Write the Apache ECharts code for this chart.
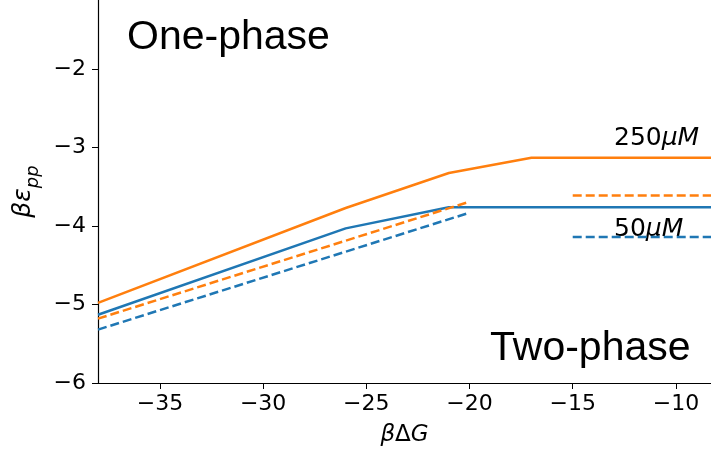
<!DOCTYPE html>
<html>
<head>
<meta charset="utf-8">
<script src="https://cdn.jsdelivr.net/npm/echarts@6/dist/echarts.min.js"></script>
<style>
  html, body { margin: 0; padding: 0; background: #fff; }
  #chart { width: 711px; height: 456px; }
</style>
</head>
<body>
<div id="chart"></div>
<script>
const BLUE = "#1f77b4";
const ORANGE = "#ff7f0e";

// x values are beta*dG, y values are beta*eps_pp
const high_solid_x = [-38, -26, -21, -17, -8.3];
const high_solid_y = [-4.98, -3.77, -3.325, -3.13, -3.13];
const low_solid_x = [-38, -26, -21, -8.3];
const low_solid_y = [-5.13, -4.03, -3.76, -3.76];
const high_dash_x = [-38, -20];
const high_dash_y = [-5.18, -3.69];
const low_dash_x = [-38, -20];
const low_dash_y = [-5.32, -3.83];
const high_ref_x = [-15, -8.3];
const high_ref_y = [-3.61, -3.61];
const low_ref_x = [-15, -8.3];
const low_ref_y = [-4.14, -4.14];

const xTicks = [-35, -30, -25, -20, -15, -10];
const yTicks = [-6, -5, -4, -3, -2];

const pairs = (xs, ys) => xs.map((x, i) => [x, ys[i]]);
const minus = (v) => String(v).replace("-", "\u2212");

const FONT = "DejaVu Sans";

const lineSeries = (xs, ys, color, dashed) => ({
  type: "line",
  data: pairs(xs, ys),
  showSymbol: false,
  symbol: "none",
  silent: true,
  lineStyle: {
    color: color,
    width: 2.5,
    type: dashed ? [9, 4] : "solid",
  },
});

const chart = echarts.init(document.getElementById("chart"), null, { renderer: "canvas" });

chart.setOption({
  animation: false,
  backgroundColor: "#fff",
  grid: { left: 98, right: 0, top: 0, bottom: 73, containLabel: false },
  xAxis: {
    type: "value",
    min: -38,
    max: -8.3,
    axisLine: { show: true, onZero: false, lineStyle: { color: "#000", width: 1.2 } },
    axisTick: { show: true, customValues: xTicks, length: 6, inside: false, lineStyle: { color: "#000", width: 1 } },
    axisLabel: {
      customValues: xTicks,
      formatter: minus,
      color: "#000",
      fontSize: 22,
      fontFamily: FONT,
      margin: 10,
    },
    splitLine: { show: false },
    name: "{i|β}{u|Δ}{i|G}",
    nameLocation: "middle",
    nameGap: 41,
    nameTextStyle: {
      rich: {
        i: { fontSize: 23, fontStyle: "italic", fontFamily: FONT, color: "#000" },
        u: { fontSize: 23, fontFamily: FONT, color: "#000" },
      },
    },
  },
  yAxis: {
    type: "value",
    min: -6,
    max: -1.12,
    axisLine: { show: true, onZero: false, lineStyle: { color: "#000", width: 1.2 } },
    axisTick: { show: true, customValues: yTicks, length: 6, inside: false, lineStyle: { color: "#000", width: 1 } },
    axisLabel: {
      customValues: yTicks,
      formatter: minus,
      color: "#000",
      fontSize: 22,
      fontFamily: FONT,
      margin: 12,
    },
    splitLine: { show: false },
    name: "{a|βε}{s|pp}",
    nameLocation: "middle",
    nameRotate: 90,
    nameGap: 55,
    nameTextStyle: {
      rich: {
        a: { fontSize: 25, fontStyle: "italic", fontFamily: FONT, color: "#000", verticalAlign: "bottom", padding: [0, 0, 7, 0] },
        s: { fontSize: 18, fontStyle: "italic", fontFamily: FONT, color: "#000", verticalAlign: "bottom" },
      },
    },
  },
  series: [
    lineSeries(low_solid_x, low_solid_y, BLUE, false),
    lineSeries(high_solid_x, high_solid_y, ORANGE, false),
    lineSeries(low_dash_x, low_dash_y, BLUE, true),
    lineSeries(high_dash_x, high_dash_y, ORANGE, true),
    lineSeries(high_ref_x, high_ref_y, ORANGE, true),
    lineSeries(low_ref_x, low_ref_y, BLUE, true),
  ],
  graphic: [
    {
      type: "text", left: 127, top: 17,
      style: { text: "One-phase", font: '41px "Liberation Sans"', fill: "#000" },
    },
    {
      type: "text", left: 490, top: 328,
      style: { text: "Two-phase", font: '41px "Liberation Sans"', fill: "#000" },
    },
    {
      type: "text", left: 614, top: 126,
      style: {
        text: "{n|250}{i|μM}",
        rich: {
          n: { font: '25px "DejaVu Sans"', fill: "#000" },
          i: { font: 'italic 25px "DejaVu Sans"', fill: "#000" },
        },
      },
    },
    {
      type: "text", left: 614, top: 217,
      style: {
        text: "{n|50}{i|μM}",
        rich: {
          n: { font: '25px "DejaVu Sans"', fill: "#000" },
          i: { font: 'italic 25px "DejaVu Sans"', fill: "#000" },
        },
      },
    },
  ],
});
</script>
</body>
</html>
